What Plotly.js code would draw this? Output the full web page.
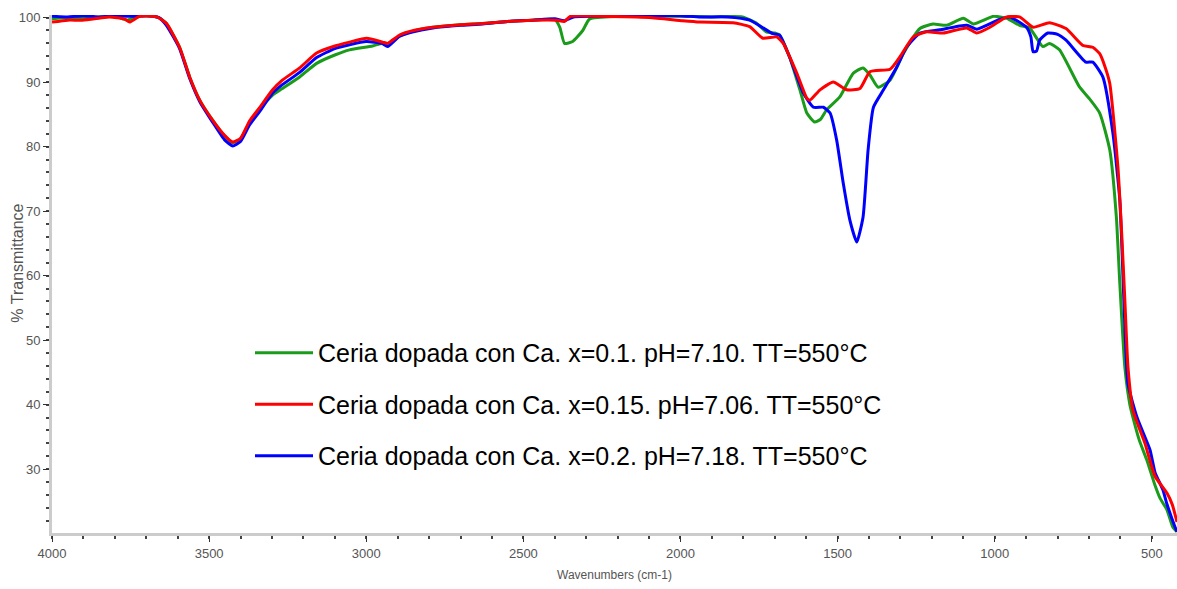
<!DOCTYPE html>
<html>
<head>
<meta charset="utf-8">
<script src="https://cdn.plot.ly/plotly-3.0.1.min.js"></script>
<style>html,body{margin:0;padding:0;background:#fff;}#chart{width:1177px;height:589px;}</style>
</head>
<body>
<div id="chart"></div>
<script>
// Series names
const nameGreen = "Ceria dopada con Ca. x=0.1. pH=7.10. TT=550°C";
const nameRed = "Ceria dopada con Ca. x=0.15. pH=7.06. TT=550°C";
const nameBlue = "Ceria dopada con Ca. x=0.2. pH=7.18. TT=550°C";

// Green series (x=0.1)
const wnGreen = [4000,3950,3900,3850,3800,3760,3740,3700,3660,3636,3594,3562,3530,3489,3450,3425,3400,3371,3340,3298,3267,3212,3158,3100,3053,2980,2950,2932,2894,2850,2788,2700,2629,2550,2470,2400,2384,2369,2343,2311,2289,2200,2100,2000,1900,1803,1760,1727,1700,1685,1653,1620,1598,1573,1555,1535,1493,1450,1419,1397,1371,1333,1291,1238,1196,1153,1100,1068,1004,962,921,889,847,826,794,731,700,666,634,613,602,586,570,560,540,516,490,474,452,433,420];
const tGreen = [99.8,100.0,99.9,100.1,100.2,99.6,100.0,100.3,100.0,99.1,95.4,90.8,87.2,84.1,81.6,80.6,81.2,83.6,85.8,88.0,89.0,90.8,92.9,94.2,95.0,95.6,96.0,95.8,97.1,97.9,98.5,98.9,99.1,99.4,99.6,99.7,98.5,96.0,96.3,98.0,99.8,100.2,100.2,100.2,100.1,100.1,99.2,97.8,97.6,97.3,93.9,88.8,85.2,83.8,84.2,85.7,87.7,91.4,92.2,91.1,89.2,90.3,94.4,98.3,99.0,98.8,99.9,99.0,100.2,99.9,98.8,98.4,95.5,96.0,95.0,89.3,87.5,85.2,79.5,69.1,58.8,45.8,40.0,38.0,34.5,31.4,27.5,25.5,23.7,21.0,20.3];

// Red series (x=0.15)
const wnRed = [4000,3950,3903,3850,3817,3770,3753,3721,3667,3636,3594,3562,3530,3489,3450,3425,3400,3371,3340,3298,3267,3212,3158,3100,3053,2999,2948,2932,2894,2850,2788,2700,2629,2550,2470,2394,2370,2350,2250,2100,1993,1939,1833,1780,1738,1694,1673,1630,1598,1588,1556,1514,1471,1429,1397,1333,1302,1259,1217,1164,1089,1057,1015,962,921,878,826,773,720,688,666,650,634,608,596,586,576,560,522,490,452,435,420];
const tRed = [99.3,99.6,99.6,99.9,100.1,99.8,99.3,100.2,100.1,99.1,95.4,90.8,87.2,84.1,81.7,80.7,81.3,84.0,86.0,88.8,90.3,92.2,94.5,95.6,96.2,96.8,96.2,96.0,97.3,98.0,98.5,98.9,99.1,99.4,99.6,99.6,99.4,100.2,100.2,100.0,99.5,99.3,99.2,98.6,96.8,97.0,96.0,91.4,87.5,87.2,88.8,90.0,88.8,89.0,91.6,92.0,93.9,97.0,97.8,97.6,98.4,97.6,98.5,100.1,100.1,98.5,99.2,98.3,95.7,95.4,94.4,92.5,89.8,76.8,66.5,56.2,45.8,39.1,34.0,28.9,26.3,24.5,21.8];

// Blue series (x=0.2)
const wnBlue = [4000,3950,3900,3850,3800,3750,3700,3660,3636,3594,3562,3530,3489,3450,3425,3400,3371,3340,3298,3267,3212,3158,3100,3053,3000,2950,2932,2894,2850,2788,2700,2629,2550,2470,2400,2370,2340,2250,2100,2000,1939,1850,1780,1706,1685,1653,1609,1577,1545,1524,1503,1482,1461,1439,1419,1403,1386,1354,1312,1281,1238,1175,1089,1057,985,953,899,885,878,867,857,831,800,773,710,688,656,624,602,589,576,547,506,490,465,452,426,420];
const tBlue = [100.2,100.1,100.3,100.1,100.3,100.2,100.3,100.0,98.8,95.2,90.6,87.0,83.8,81.0,80.1,80.8,83.4,85.4,88.3,89.6,91.5,93.8,95.2,95.8,96.3,96.0,95.5,97.1,97.8,98.4,98.8,99.0,99.4,99.6,99.8,99.5,100.1,100.2,100.3,100.3,100.1,100.1,99.6,97.5,97.3,93.9,88.3,86.1,86.1,85.2,81.0,74.3,68.6,65.2,69.1,79.5,86.1,88.8,92.3,95.4,97.6,98.1,98.8,98.2,99.7,100.1,98.5,97.0,94.7,94.8,96.5,97.6,97.4,96.5,93.1,93.1,90.8,82.1,71.7,56.2,43.2,38.0,33.0,29.5,26.8,24.6,21.0,20.3];

// Axis ticks
const xTicks = [4000,3500,3000,2500,2000,1500,1000,500];
const yTicks = [30,40,50,60,70,80,90,100];
const yTitle = '% Transmittance';
const xTitle = 'Wavenumbers (cm-1)';

const sans = "'Liberation Sans', Arial, sans-serif";
const lineW = 3;

function tr(x, y, name, color, rank) {
  return {
    x: x, y: y, name: name, type: 'scatter', mode: 'lines',
    line: {color: color, width: lineW, shape: 'spline', smoothing: 0.5},
    legendgroup: name, legendrank: rank, hoverinfo: 'x+y+name'
  };
}

const data = [
  tr(wnGreen, tGreen, nameGreen, '#1a9c1a', 1),
  tr(wnBlue, tBlue, nameBlue, '#0000ff', 3),
  tr(wnRed, tRed, nameRed, '#ff0000', 2)
];

const axisCommon = {
  showline: true, linecolor: '#cccccc', linewidth: 3,
  showgrid: false, zeroline: false,
  ticks: 'outside', ticklen: 6, tickwidth: 1, tickcolor: '#333',
  tickfont: {family: sans, size: 13, color: '#555'},
  mirror: false
};

const layout = {
  width: 1177, height: 589,
  margin: {l: 52, r: 0, t: 15, b: 56},
  paper_bgcolor: '#fff', plot_bgcolor: '#fff',
  showlegend: true,
  legend: {
    x: 0.176, y: 0.392, xanchor: 'left', yanchor: 'top',
    bgcolor: 'rgba(0,0,0,0)', borderwidth: 0,
    font: {family: sans, size: 25, color: '#000'},
    traceorder: 'grouped', tracegroupgap: 16, itemwidth: 58
  },
  xaxis: Object.assign({}, axisCommon, {
    range: [4000, 420], autorange: false,
    tickvals: xTicks, ticktext: xTicks.map(String),
    minor: {dtick: 100, tick0: 0, ticks: 'outside', ticklen: 3, tickwidth: 2, tickcolor: '#444'},
    title: {text: xTitle, font: {family: sans, size: 12, color: '#555'}, standoff: 12}
  }),
  yaxis: Object.assign({}, axisCommon, {
    range: [20.1, 100.4], autorange: false,
    tickvals: yTicks, ticktext: yTicks.map(String),
    minor: {dtick: 2, tick0: 0, ticks: 'outside', ticklen: 3, tickwidth: 2, tickcolor: '#444'}
  }),
  annotations: [{
    text: yTitle, textangle: -90, showarrow: false,
    xref: 'paper', yref: 'paper', x: 0, y: 0.52, xanchor: 'center', yanchor: 'middle',
    xshift: -34, font: {family: sans, size: 16, color: '#555'}
  }]
};

Plotly.newPlot('chart', data, layout, {displayModeBar: false, staticPlot: true});
</script>
</body>
</html>
